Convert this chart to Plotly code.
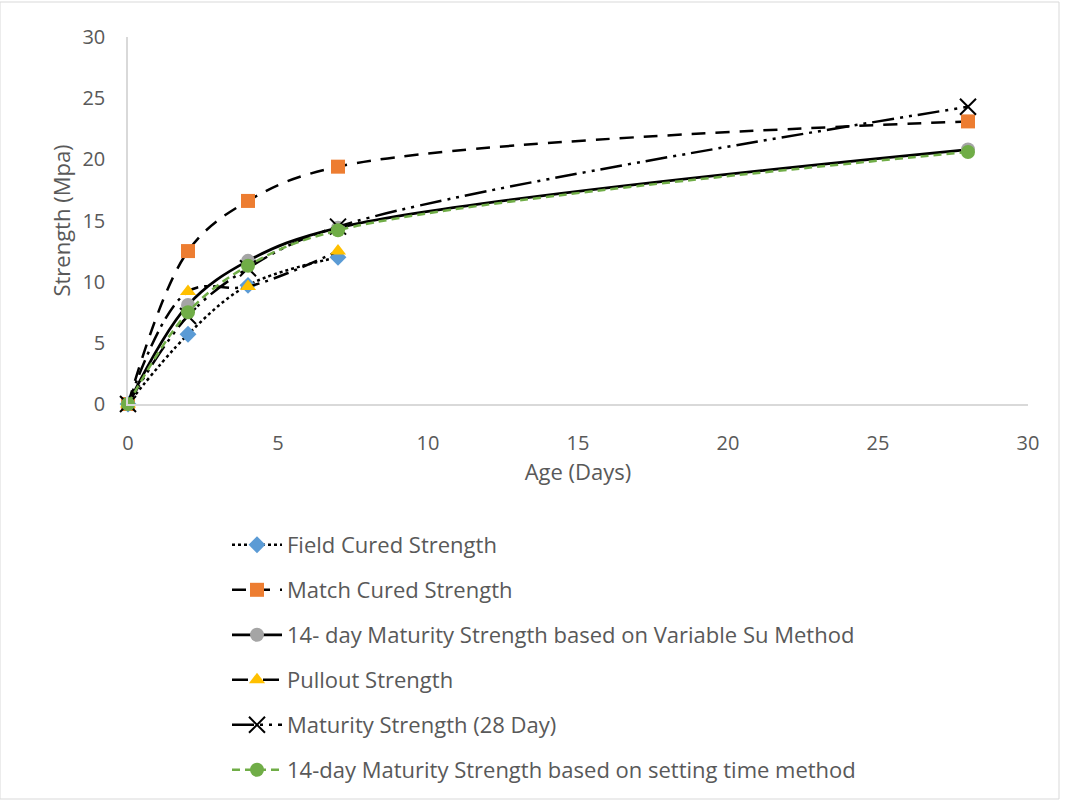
import plotly.graph_objects as go

age = [0, 2, 4, 7, 28]
age_short = [0, 2, 4, 7]
field_cured = [0, 5.7, 9.7, 12.0]
match_cured = [0, 12.5, 16.6, 19.4, 23.1]
variable_su = [0, 8.1, 11.7, 14.4, 20.8]
pullout = [0, 9.2, 9.6, 12.5]
maturity_28 = [0, 7.2, 11.1, 14.5, 24.3]
setting_time = [0, 7.5, 11.3, 14.2, 20.6]

names = [
    "Field Cured Strength",
    "Match Cured Strength",
    "14- day Maturity Strength based on Variable Su Method",
    "Pullout Strength",
    "Maturity Strength (28 Day)",
    "14-day Maturity Strength based on setting time method",
]

fig = go.Figure()

def add(x, y, name, dash, lcolor, width, symbol, mcolor, msize, mline=None):
    marker = dict(symbol=symbol, color=mcolor, size=msize)
    if mline:
        marker["line"] = mline
    fig.add_trace(go.Scatter(
        x=x, y=y, name=name, mode="lines+markers", cliponaxis=False,
        line=dict(color=lcolor, width=width, dash=dash, shape="spline", smoothing=1),
        marker=marker, legendgroup=name,
    ))

add(age_short, field_cured, names[0], "dot", "black", 2.5, "diamond", "#5B9BD5", 13)
add(age, match_cured, names[1], "14px,10px", "black", 2.5, "square", "#ED7D31", 14)
add(age, variable_su, names[2], "solid", "black", 2.8, "circle", "#A5A5A5", 14)
add(age_short, pullout, names[3], "16px,6px,3px,6px", "black", 2.5, "triangle-up", "#FFC000", 14)
add(age, maturity_28, names[4], "22px,6px,3px,6px,3px,6px", "black", 2.5, "x-thin-open", "black", 16,
    mline=dict(color="black", width=2))
add(age, setting_time, names[5], "8px,5px", "#70AD47", 2.5, "circle", "#70AD47", 14)

font_fam = "Open Sans, Liberation Sans, sans-serif"
fig.update_layout(
    width=1065, height=803,
    margin=dict(l=128, r=37, t=37, b=399, autoexpand=False),
    paper_bgcolor="white", plot_bgcolor="white",
    font=dict(family=font_fam, color="#595959", size=20),
    xaxis=dict(range=[0, 30], dtick=5, showgrid=False, zeroline=False,
               showline=True, linecolor="#D9D9D9", linewidth=1.5,
               ticks="outside", ticklen=20, tickcolor="rgba(0,0,0,0)",
               tickfont=dict(size=20, color="#595959"),
               title=dict(text="Age (Days)", font=dict(size=22, color="#595959"), standoff=10)),
    yaxis=dict(range=[0, 30], dtick=5, showgrid=False, zeroline=False,
               showline=True, linecolor="#D9D9D9", linewidth=1.5,
               ticks="outside", ticklen=17, tickcolor="rgba(0,0,0,0)",
               tickfont=dict(size=20, color="#595959"),
               title=dict(text="Strength (Mpa)", font=dict(size=22, color="#595959"), standoff=6)),
    legend=dict(x=(227 - 128) / 900, xanchor="left", y=-(524 - 404) / 367, yanchor="top",
                orientation="v", font=dict(size=22, color="#595959", family=font_fam),
                tracegroupgap=13.4, itemwidth=50, bgcolor="rgba(0,0,0,0)"),
    showlegend=True,
)

fig.add_shape(type="rect", xref="paper", yref="paper",
              x0=-128/900, x1=(1065-128 - 6)/900, y0=-(399 - 4)/367, y1=(367 + 37 - 2)/367,
              line=dict(color="#D9D9D9", width=1), layer="below")

fig.write_html("out.html")
